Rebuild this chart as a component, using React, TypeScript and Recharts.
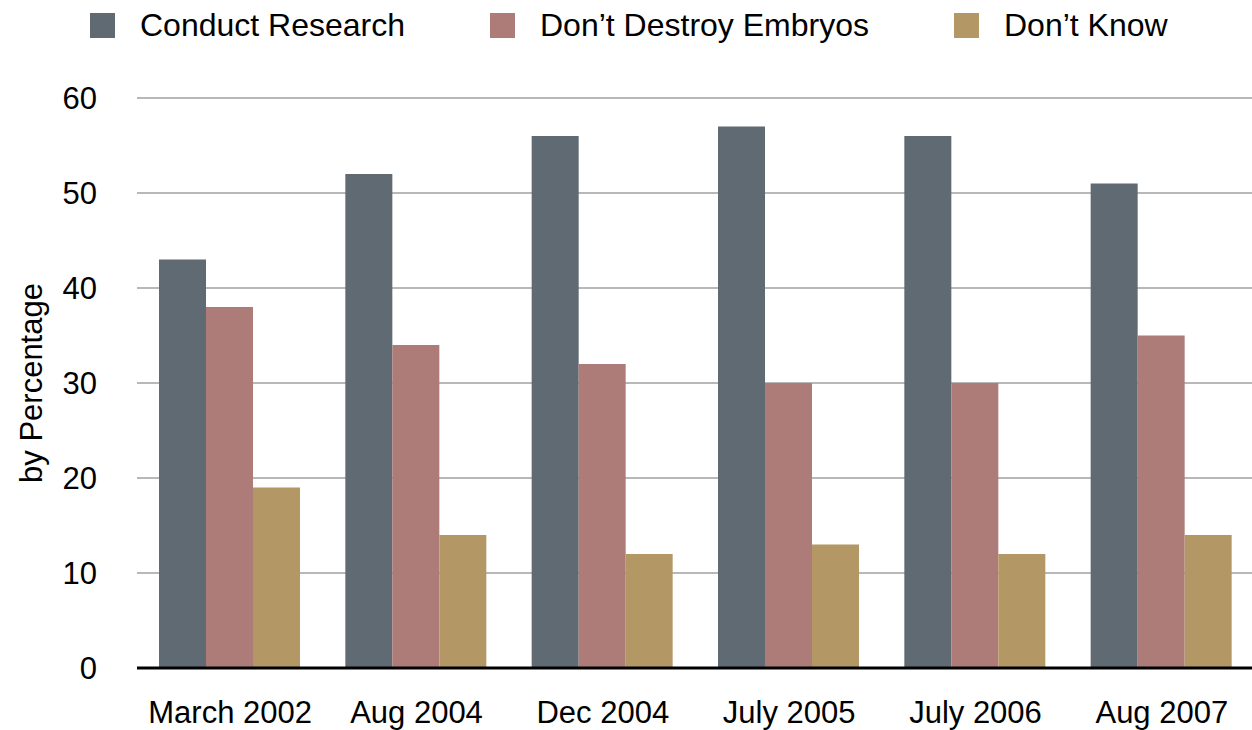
import React from 'react';
import { BarChart, Bar, XAxis, YAxis, CartesianGrid, Legend } from 'recharts';

// poll dates
const periods = ['March 2002', 'Aug 2004', 'Dec 2004', 'July 2005', 'July 2006', 'Aug 2007'];

// percentages per answer
const conductResearch = [43, 52, 56, 57, 56, 51];
const dontDestroy = [38, 34, 32, 30, 30, 35];
const dontKnow = [19, 14, 12, 13, 12, 14];

const yTicks = [0, 10, 20, 30, 40, 50, 60];

const seriesNames = ['Conduct Research', 'Don\u2019t Destroy Embryos', 'Don\u2019t Know'];
const COLORS = ['#5f6a72', '#ad7b78', '#b39865'];
const legendLeft = [90, 490, 954];

const data = periods.map((p, i) => ({
  period: p,
  conduct: conductResearch[i],
  destroy: dontDestroy[i],
  know: dontKnow[i],
}));

const FONT = 'Liberation Sans, Arial, Helvetica, sans-serif';

function TopLegend() {
  return (
    <div style={{ position: 'relative', width: 1252, height: 50 }}>
      {seriesNames.map((name, i) => (
        <div key={name} style={{ position: 'absolute', left: legendLeft[i], top: 13, height: 25, display: 'flex', alignItems: 'center' }}>
          <div style={{ width: 25, height: 25, background: COLORS[i] }} />
          <span style={{ marginLeft: 25, fontSize: 32, fontFamily: FONT, color: '#000', lineHeight: '25px' }}>{name}</span>
        </div>
      ))}
    </div>
  );
}

export default function App() {
  return (
    <div style={{ position: 'fixed', top: 0, left: 0, width: 1252, height: 730, overflow: 'hidden', background: '#fff' }}>
      <BarChart
        width={1256}
        height={730}
        data={data}
        margin={{ top: 48, right: 1, bottom: 0, left: 0 }}
        barCategoryGap={22}
        barGap={0}
      >
        <CartesianGrid vertical={false} stroke="#b8b8b8" strokeWidth={2} />
        <Legend
          verticalAlign="top"
          align="left"
          height={50}
          wrapperStyle={{ top: 0, left: 0 }}
          content={() => <TopLegend />}
        />
        <XAxis
          dataKey="period"
          axisLine={{ stroke: '#000', strokeWidth: 3 }}
          tickLine={false}
          tickSize={0}
          tickMargin={33}
          height={62}
          interval={0}
          tick={{ fill: '#000', fontSize: 31, fontFamily: FONT }}
        />
        <YAxis
          domain={[0, 60]}
          ticks={yTicks}
          width={137}
          axisLine={false}
          tickLine={false}
          tickSize={0}
          tickMargin={40}
          tick={{ fill: '#000', fontSize: 31, fontFamily: FONT }}
          label={{
            content: (props: any) => {
              const vb = props.viewBox;
              const cy = vb.y + vb.height / 2;
              return (
                <text
                  x={31}
                  y={cy}
                  transform={`rotate(-90, 31, ${cy})`}
                  textAnchor="middle"
                  dominantBaseline="central"
                  fontSize={31}
                  fontFamily={FONT}
                  fill="#000"
                >
                  by Percentage
                </text>
              );
            },
          }}
        />
        <Bar dataKey="conduct" name={seriesNames[0]} fill={COLORS[0]} isAnimationActive={false} />
        <Bar dataKey="destroy" name={seriesNames[1]} fill={COLORS[1]} isAnimationActive={false} />
        <Bar dataKey="know" name={seriesNames[2]} fill={COLORS[2]} isAnimationActive={false} />
      </BarChart>
    </div>
  );
}
